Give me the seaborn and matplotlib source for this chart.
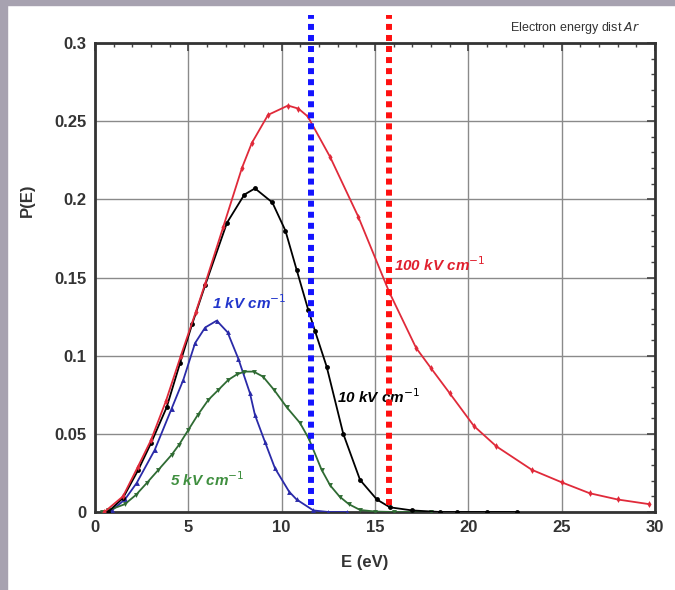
import numpy as np
import pandas as pd
import seaborn as sns
import matplotlib.pyplot as plt
from matplotlib.patches import Rectangle
from matplotlib.ticker import MultipleLocator

# values
e_100 = [0.5, 1.5, 2.3, 3.0, 3.8, 4.6, 5.4, 5.9, 6.86, 7.87, 8.4, 9.27, 10.34, 10.9, 11.4,
         12.6, 14.1, 15.75, 17.2, 18.0, 19.0, 20.3, 21.5, 23.4, 25.0, 26.5, 28.0, 29.7]
p_100 = [0.0, 0.01, 0.029, 0.046, 0.071, 0.100, 0.128, 0.146, 0.182, 0.220, 0.236, 0.254, 0.260, 0.258, 0.253,
         0.227, 0.189, 0.141, 0.105, 0.092, 0.076, 0.055, 0.042, 0.027, 0.019, 0.012, 0.008, 0.005]

e_10 = [0.7, 1.5, 2.32, 3.0, 3.84, 4.55, 5.2, 5.9, 7.07, 8.0, 8.57, 9.5, 10.2, 10.8, 11.43, 11.78,
        12.41, 13.3, 14.2, 15.1, 15.8, 17.0, 18.5, 19.4, 21.0, 22.6]
p_10 = [0.0, 0.009, 0.027, 0.044, 0.067, 0.095, 0.120, 0.145, 0.185, 0.203, 0.207, 0.198, 0.180, 0.155, 0.129, 0.116,
        0.093, 0.050, 0.0205, 0.008, 0.003, 0.001, 0.0, 0.0, 0.0, 0.0]

e_5 = [0.4, 0.7, 1.6, 2.2, 2.77, 3.4, 4.1, 4.5, 5.0, 5.5, 6.07, 6.6, 7.14, 7.6, 8.0, 8.5, 9.0, 9.6,
       10.27, 10.98, 11.45, 12.14, 12.6, 13.1, 13.6, 14.2, 15.0, 16.0, 17.0, 18.0]
p_5 = [0.0, 0.001, 0.005, 0.011, 0.0185, 0.027, 0.0365, 0.043, 0.0525, 0.062, 0.0717, 0.078, 0.0845, 0.088, 0.0898, 0.0898, 0.0866, 0.078,
       0.067, 0.057, 0.047, 0.027, 0.017, 0.0099, 0.005, 0.0013, 0.0003, 0.0, 0.0, 0.0]

e_1 = [0.5, 0.9, 1.6, 2.23, 3.2, 4.1, 4.73, 5.36, 5.9, 6.52, 7.1, 7.68, 8.3, 8.57, 9.1, 9.64, 10.4,
       10.8, 11.7, 12.5, 13.5]
p_1 = [0.0, 0.001, 0.008, 0.0185, 0.0397, 0.066, 0.0845, 0.108, 0.118, 0.1224, 0.115, 0.098, 0.076, 0.062, 0.045, 0.028, 0.013,
       0.008, 0.001, 0.0, 0.0]

excitation_ev = 11.55
ionization_ev = 15.76

curves = [
    (e_1, p_1, "#2a2aa8", "^", "1 kV cm$^{-1}$", 6.27, 0.134, "#2236cc"),
    (e_5, p_5, "#2f6b33", "v", "5 kV cm$^{-1}$", 4.0, 0.021, "#3f8f3f"),
    (e_10, p_10, "black", "o", "10 kV cm$^{-1}$", 12.95, 0.074, "black"),
    (e_100, p_100, "#e02a3a", "d", "100 kV cm$^{-1}$", 16.0, 0.158, "#e0202e"),
]

sns.set_style("white")
plt.rcParams['font.family'] = ['Liberation Sans', 'DejaVu Sans']

fig = plt.figure(figsize=(6.75, 5.9), dpi=100)
ax = fig.add_axes([95 / 675, 1 - 512 / 590, 560 / 675, 469 / 590])

for e, p, col, mk, label, lx, ly, lcol in curves:
    df = pd.DataFrame({"E": e, "P": p})
    sns.lineplot(data=df, x="E", y="P", color=col, marker=mk, markersize=3.5,
                 markeredgewidth=0, linewidth=1.3, sort=False, ax=ax, zorder=3)
    ax.text(lx, ly, label, color=lcol, fontsize=11, fontweight="bold",
            fontstyle="italic", ha="left", va="center", zorder=4)

# excitation and ionisation thresholds
ax.axvline(excitation_ev, ymin=0.015, ymax=1.06, color="#1414ff", linewidth=4.3,
           linestyle=(0, (1, 0.85)), clip_on=False, zorder=5)
ax.axvline(ionization_ev, ymin=0.015, ymax=1.06, color="#ff1010", linewidth=4.3,
           linestyle=(0, (1, 0.85)), clip_on=False, zorder=5)

ax.set_xlim(0, 30)
ax.set_ylim(0, 0.3)
ax.xaxis.set_major_locator(MultipleLocator(5))
ax.xaxis.set_minor_locator(MultipleLocator(1))
ax.yaxis.set_major_locator(MultipleLocator(0.05))
ax.yaxis.set_minor_locator(MultipleLocator(0.01))
ax.set_xticks([0, 5, 10, 15, 20, 25, 30], ["0", "5", "10", "15", "20", "25", "30"])
ax.set_yticks([0, 0.05, 0.1, 0.15, 0.2, 0.25, 0.3], ["0", "0.05", "0.1", "0.15", "0.2", "0.25", "0.3"])
ax.grid(True, which="major", color="#8a8a8a", linewidth=1.0)
ax.tick_params(which="both", direction="in", top=True, right=True, color="#444444")
ax.tick_params(which="major", length=6, width=1.2, labelsize=12, labelcolor="#333333", pad=6)
ax.tick_params(which="minor", length=3, width=1.0)
for lab in ax.get_xticklabels() + ax.get_yticklabels():
    lab.set_fontweight("bold")
for s in ax.spines.values():
    s.set_color("#333333")
    s.set_linewidth(2)

ax.set_xlabel("E (eV)", fontsize=12, fontweight="bold", color="#333333")
ax.set_ylabel("P(E)", fontsize=12, fontweight="bold", color="#333333")
ax.xaxis.set_label_coords(0.482, -0.092)
ax.yaxis.set_label_coords(-0.107, 0.665)

fig.text(640 / 675, 1 - 28 / 590, "Electron energy dist $\\it{Ar}$", fontsize=9,
         color="#333333", ha="right", va="center")

# grey frame strips of the screenshot
fig.patches.append(Rectangle((0, 0), 7 / 675, 1, transform=fig.transFigure,
                             color="#a7a2b0", zorder=0))
fig.patches.append(Rectangle((0, 1 - 5 / 590), 1, 5 / 590, transform=fig.transFigure,
                             color="#a7a2b0", zorder=0))

fig.savefig("out.png", dpi=100)
